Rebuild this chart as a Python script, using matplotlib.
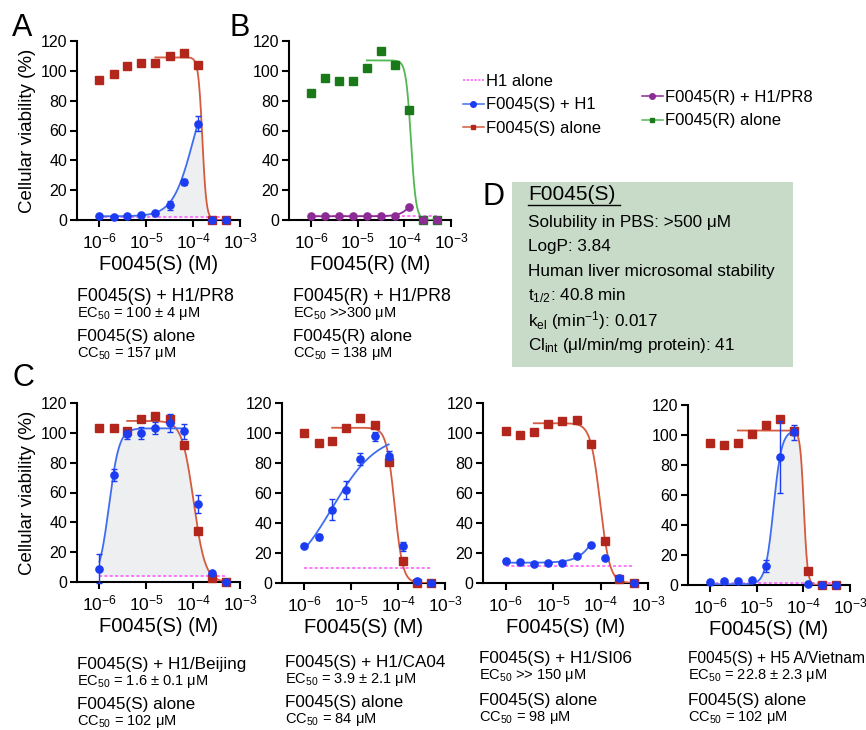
import numpy as np
import matplotlib
matplotlib.use("Agg")
import matplotlib.pyplot as plt
from matplotlib.lines import Line2D
from matplotlib.patches import Rectangle
from matplotlib.ticker import NullLocator, FixedLocator, LogFormatterSciNotation

plt.rcParams["font.family"] = ["Liberation Sans", "DejaVu Sans"]
plt.rcParams["mathtext.fontset"] = "custom"
plt.rcParams["mathtext.rm"] = "Liberation Sans"
plt.rcParams["mathtext.it"] = "Liberation Sans:italic"

W, H = 866, 730

# two-fold dilution series (M)
conc = [1e-6, 2e-6, 3.9e-6, 7.8e-6, 15.6e-6, 31.25e-6, 62.5e-6, 125e-6, 250e-6, 500e-6]
xticks = [1e-6, 1e-5, 1e-4, 1e-3]

# panel A: F0045(S) vs H1/PR8
a_alone = [94, 98, 103, 105, 105.5, 110, 112, 104, 0, 0]
a_virus = [2.5, 2, 2.5, 3.5, 5, 10, 25.5, 64.5, 0, 0]
a_err = [0.5, 0.5, 0.5, 0.5, 0.5, 3, 2, 5, 0, 0]
a_h1 = 2
# panel B: F0045(R) vs H1/PR8
b_alone = [85, 95, 93, 93, 102, 113, 104, 74, 0, 0]
b_virus = [2.5, 3, 2.5, 3, 2.5, 2.5, 3, 9, 0, 0]
b_err = [0, 0, 0, 0, 0, 0, 0, 0, 0, 0]
b_h1 = 3
# panel C: F0045(S) vs four strains
c1_alone = [103, 103, 101, 109, 111, 109, 92, 34, 3, 0]
c1_virus = [9, 71.5, 99, 100, 103, 106.5, 101, 52, 6, 0]
c1_err = [10, 4, 3, 4, 4, 6, 5, 6, 1, 0]
c1_h1 = 4
c2_alone = [100, 93.5, 94.5, 103.5, 110, 105.5, 81, 15, 0, 0]
c2_virus = [25, 30.5, 49, 62, 83, 98, 85, 24.5, 1.5, 0]
c2_err = [1, 2, 7, 6, 4, 3, 3, 3, 1, 0]
c2_h1 = 10
c3_alone = [101.5, 99, 101, 106, 108, 109, 93, 28, 3, 0]
c3_virus = [14.5, 14, 13, 13.5, 13.5, 18, 25.5, 16.5, 3.5, 0]
c3_err = [1.5, 1.5, 0.5, 0.5, 0.5, 0.5, 0.5, 0.5, 0.5, 0]
c3_h1 = 11.5
c4_alone = [94.5, 93.5, 95, 100.5, 106.5, 110.5, 103, 9.5, 0, 0]
c4_virus = [2, 2.5, 3, 3.5, 13, 85.5, 102, 1, 0, 0]
c4_err = [0.5, 0.5, 0.5, 0.5, 4, 24, 5, 0.5, 0, 0]
c4_h1 = 1.5

# fitted curves: bottom, top, EC50/CC50 (M), hill slope
a_fit_alone = [0, 109, 157e-6, -10]
a_fit_virus = [2.5, 104, 100e-6, 2]
b_fit_alone = [0, 107, 138e-6, -8]
b_fit_virus = [2.5, 100, 300e-6, 3]
c1_fit_alone = [0, 108, 102e-6, -3.5]
c1_fit_virus = [0, 103, 1.6e-6, 4]
c2_fit_alone = [0, 103.5, 84e-6, -5]
c2_fit_virus = [0, 100, 3.9e-6, 0.9]
c3_fit_alone = [0, 106.5, 98e-6, -4.3]
c3_fit_virus = [13.5, 100, 150e-6, 2]
c4_fit_alone = [0, 103, 102e-6, -11]
c4_fit_virus = [0.5, 103, 22.8e-6, 5]

red_sq, red_ln = "#b3261c", "#d65a3c"
blue_pt, blue_ln = "#1c3cf2", "#3f6df0"
green_sq, green_ln = "#1a7a1a", "#52b852"
purple = "#8d2b95"
pink = "#ff55ff"


def hill(x, p):
    bottom, top, ec, h = p
    return bottom + (top - bottom) / (1 + (ec / x) ** h)


def box(l, t, r, b):
    return [l / W, 1 - b / H, (r - l) / W, (b - t) / H]


def panel(ax, alone, virus, err, h1, fit_alone, fit_virus, c_alone, c_virus,
          alone_from, virus_to, shade, ylabel):
    xs = np.logspace(np.log10(conc[0]), np.log10(conc[-1]), 400)
    if shade:
        upper = np.minimum(hill(xs, fit_alone), hill(xs, fit_virus))
        ax.fill_between(xs, h1, upper, where=upper > h1, color="#edeff0",
                        lw=0, zorder=1)
    ax.plot([conc[0], conc[-1]], [h1, h1], color=pink, lw=1.1,
            ls=(0, (2, 1.5)), zorder=2)
    xa = np.logspace(np.log10(conc[alone_from]), np.log10(conc[-1]), 300)
    ax.plot(xa, hill(xa, fit_alone), color=c_alone[1], lw=1.3, zorder=3)
    xv = np.logspace(np.log10(conc[0]), np.log10(conc[virus_to]), 300)
    ax.plot(xv, hill(xv, fit_virus), color=c_virus[1], lw=1.3, zorder=3)
    ax.plot(conc, alone, "s", color=c_alone[0], ms=5.2, zorder=4, clip_on=False)
    ax.errorbar(conc, virus, yerr=err, fmt="o", color=c_virus[0], ms=5.2,
                elinewidth=1, capsize=2.5, capthick=1, zorder=5, clip_on=False)

    ax.set_xscale("log")
    ax.set_xlim(10 ** -6.48, 1e-3)
    ax.set_ylim(0, 120)
    ax.set_yticks([0, 20, 40, 60, 80, 100, 120])
    ax.xaxis.set_major_locator(FixedLocator(xticks))
    ax.xaxis.set_major_formatter(LogFormatterSciNotation())
    ax.xaxis.set_minor_locator(NullLocator())
    for s in ("top", "right"):
        ax.spines[s].set_visible(False)
    for s in ("left", "bottom"):
        ax.spines[s].set_linewidth(1.5)
    ax.tick_params(length=5, width=1.5, labelsize=11.5, pad=2)
    ax.tick_params(axis="x", labelsize=12.5, pad=3)
    ax.patch.set_alpha(0)
    if ylabel:
        ax.set_ylabel("Cellular viability (%)", fontsize=13.5, labelpad=3)


fig = plt.figure(figsize=(W / 100, H / 100), dpi=100)

specs = [
    (box(77, 41, 240, 220), a_alone, a_virus, a_err, a_h1, a_fit_alone, a_fit_virus,
     (red_sq, red_ln), (blue_pt, blue_ln), 4, 7, True, True, "F0045(S) (M)"),
    (box(289, 41, 451, 220), b_alone, b_virus, b_err, b_h1, b_fit_alone, b_fit_virus,
     (green_sq, green_ln), (purple, purple), 4, 7, False, False, "F0045(R) (M)"),
    (box(77, 403, 240, 582), c1_alone, c1_virus, c1_err, c1_h1, c1_fit_alone, c1_fit_virus,
     (red_sq, red_ln), (blue_pt, blue_ln), 2, 6, True, True, "F0045(S) (M)"),
    (box(282, 403, 445, 583), c2_alone, c2_virus, c2_err, c2_h1, c2_fit_alone, c2_fit_virus,
     (red_sq, red_ln), (blue_pt, blue_ln), 2, 6, False, False, "F0045(S) (M)"),
    (box(483, 403, 648, 583), c3_alone, c3_virus, c3_err, c3_h1, c3_fit_alone, c3_fit_virus,
     (red_sq, red_ln), (blue_pt, blue_ln), 2, 6, False, False, "F0045(S) (M)"),
    (box(688, 405, 850, 585), c4_alone, c4_virus, c4_err, c4_h1, c4_fit_alone, c4_fit_virus,
     (red_sq, red_ln), (blue_pt, blue_ln), 2, 6, True, False, "F0045(S) (M)"),
]
for sp in specs:
    ax = fig.add_axes(sp[0])
    panel(ax, *sp[1:13])
    ax.set_xlabel(sp[13], fontsize=14.5, labelpad=3)

# captions under each plot: x, line centres, texts, first-line size
captions = [
    (77, [297, 314, 337, 354], "F0045(S) + H1/PR8", r"EC$_{\mathrm{50}}$ = 100 ± 4 μM",
     "F0045(S) alone", r"CC$_{\mathrm{50}}$ = 157 μM", 12.8),
    (293, [297, 314, 337, 354], "F0045(R) + H1/PR8", r"EC$_{\mathrm{50}}$ >>300 μM",
     "F0045(R) alone", r"CC$_{\mathrm{50}}$ = 138 μM", 12.8),
    (77, [665, 682, 704, 722], "F0045(S) + H1/Beijing", r"EC$_{\mathrm{50}}$ = 1.6 ± 0.1 μM",
     "F0045(S) alone", r"CC$_{\mathrm{50}}$ = 102 μM", 12.3),
    (285, [662, 680, 703, 719], "F0045(S) + H1/CA04", r"EC$_{\mathrm{50}}$ = 3.9 ± 2.1 μM",
     "F0045(S) alone", r"CC$_{\mathrm{50}}$ = 84 μM", 12.3),
    (479, [658, 676, 700, 717], "F0045(S) + H1/SI06", r"EC$_{\mathrm{50}}$ >> 150 μM",
     "F0045(S) alone", r"CC$_{\mathrm{50}}$ = 98 μM", 12.3),
    (688, [658, 675, 700, 717], "F0045(S) + H5 A/Vietnam", r"EC$_{\mathrm{50}}$ = 22.8 ± 2.3 μM",
     "F0045(S) alone", r"CC$_{\mathrm{50}}$ = 102 μM", 11.2),
]
for x, ys, l1, l2, l3, l4, fs1 in captions:
    for y, s, fs in zip(ys, [l1, l2, l3, l4], [fs1, 10.5, 12.3, 10.5]):
        fig.text(x / W, 1 - y / H, s, fontsize=fs, va="center", ha="left")

# panel letters
for letter, x, y in [("A", 12, 28), ("B", 229, 28), ("C", 12, 378), ("D", 482, 197)]:
    fig.text(x / W, 1 - y / H, letter, fontsize=22, va="center", ha="left")

# legends
h_h1 = Line2D([], [], color=pink, lw=1.1, ls=(0, (1.5, 1)))
h_sv = Line2D([], [], color=blue_ln, lw=1.1, marker="o", ms=4, mfc=blue_pt, mec=blue_pt)
h_sa = Line2D([], [], color=red_ln, lw=1.1, marker="s", ms=3.5, mfc=red_sq, mec=red_sq)
h_rv = Line2D([], [], color=purple, lw=1.1, marker="o", ms=4)
h_ra = Line2D([], [], color=green_ln, lw=1.1, marker="s", ms=3.5, mfc=green_sq, mec=green_sq)
leg_kw = dict(frameon=False, fontsize=12, handlelength=1.25, handletextpad=0.15,
              labelspacing=0.5, borderpad=0, borderaxespad=0, loc="upper left")
fig.legend([h_h1, h_sv, h_sa], ["H1 alone", "F0045(S) + H1", "F0045(S) alone"],
           bbox_to_anchor=(463 / W, 1 - 74 / H), **leg_kw)
fig.legend([h_rv, h_ra], ["F0045(R) + H1/PR8", "F0045(R) alone"],
           bbox_to_anchor=(642 / W, 1 - 90 / H), **leg_kw)

# panel D box
fig.add_artist(Rectangle((512 / W, 1 - 367 / H), 281 / W, 185 / H,
                         transform=fig.transFigure, facecolor="#c8dbc8",
                         edgecolor="none"))
fig.text(528 / W, 1 - 195 / H, "F0045(S)", fontsize=15, va="center", ha="left")
fig.add_artist(Line2D([528 / W, 620 / W], [1 - 205 / H, 1 - 205 / H],
                      transform=fig.transFigure, color="black", lw=1))
box_lines = [
    "Solubility in PBS: >500 μM",
    "LogP: 3.84",
    "Human liver microsomal stability",
    r"t$_{\mathrm{1/2}}$: 40.8 min",
    r"k$_{\mathrm{el}}$ (min$^{\mathrm{-1}}$): 0.017",
    r"Cl$_{\mathrm{int}}$ (μl/min/mg protein): 41",
]
for i, s in enumerate(box_lines):
    fig.text(528 / W, 1 - (222 + 24.7 * i) / H, s, fontsize=12.3, va="center", ha="left")

fig.savefig("out.png", dpi=100)
